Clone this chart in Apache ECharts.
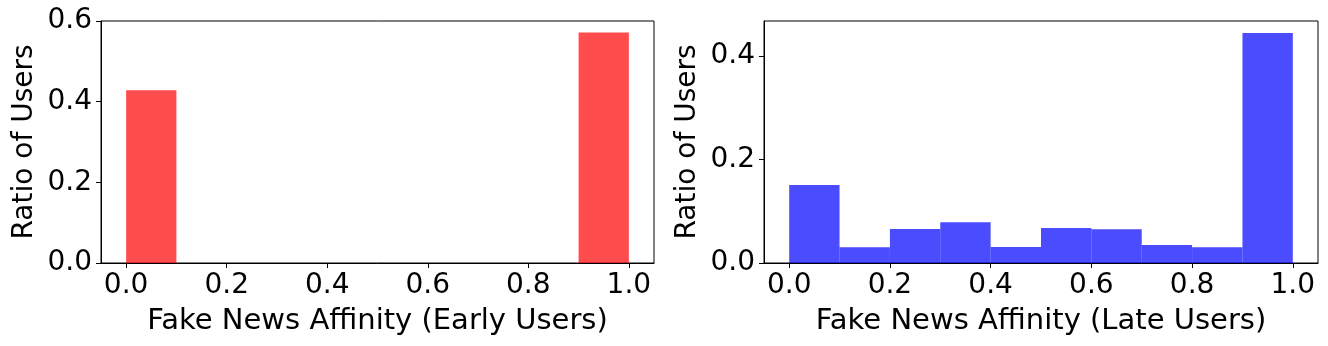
<!DOCTYPE html>
<html>
<head>
<meta charset="utf-8">
<title>Fake News Affinity</title>
<script src="https://cdn.jsdelivr.net/npm/echarts@6/dist/echarts.min.js"></script>
<style>
  html, body { margin: 0; padding: 0; background: #ffffff; }
  #chart { width: 1328px; height: 346px; }
</style>
</head>
<body>
<div id="chart"></div>
<script>
// histogram bins (10 equal bins on [0, 1])
const binEdges = [0, 0.1, 0.2, 0.3, 0.4, 0.5, 0.6, 0.7, 0.8, 0.9, 1.0];

// ratio of users per bin
const earlyRatios = [0.4286, 0, 0, 0, 0, 0, 0, 0, 0, 0.5714];
const lateRatios = [0.1507, 0.0303, 0.0657, 0.0786, 0.0309, 0.0676, 0.0651, 0.0348, 0.0303, 0.4444];

const xTicks = [0, 0.2, 0.4, 0.6, 0.8, 1.0];
const earlyYTicks = [0, 0.2, 0.4, 0.6];
const lateYTicks = [0, 0.2, 0.4];

const xNames = ['Fake News Affinity (Early Users)', 'Fake News Affinity (Late Users)'];
const yName = 'Ratio of Users';

const FONT = 'DejaVu Sans';
const FS = 28;

function binData(values) {
  const out = [];
  values.forEach((v, i) => {
    if (v > 0) out.push([binEdges[i], binEdges[i + 1], v]);
  });
  return out;
}

function renderBin(params, api) {
  const p0 = api.coord([api.value(0), 0]);
  const p1 = api.coord([api.value(1), api.value(2)]);
  return {
    type: 'rect',
    shape: { x: p0[0], y: p1[1], width: p1[0] - p0[0], height: p0[1] - p1[1] },
    style: api.style()
  };
}

function xAxis(idx) {
  return {
    type: 'value',
    gridIndex: idx,
    min: -0.05,
    max: 1.05,
    name: xNames[idx],
    nameLocation: 'middle',
    nameGap: 44,
    nameTextStyle: { fontFamily: FONT, fontSize: 29, color: '#000' },
    splitLine: { show: false },
    axisLine: { show: true, onZero: false, lineStyle: { color: '#000', width: 1 } },
    axisTick: { show: true, inside: false, length: 5, customValues: xTicks, lineStyle: { color: '#000' } },
    axisLabel: {
      customValues: xTicks,
      margin: 9,
      fontFamily: FONT, fontSize: FS, color: '#000',
      formatter: v => v.toFixed(1)
    }
  };
}

function yAxis(idx, max, ticks) {
  return {
    type: 'value',
    gridIndex: idx,
    min: 0,
    max: max,
    name: yName,
    nameLocation: 'middle',
    nameGap: 62,
    nameTextStyle: { fontFamily: FONT, fontSize: FS, color: '#000' },
    splitLine: { show: false },
    axisLine: { show: true, onZero: false, lineStyle: { color: '#000', width: 1 } },
    axisTick: { show: true, inside: false, length: 5, customValues: ticks, lineStyle: { color: '#000' } },
    axisLabel: {
      customValues: ticks,
      margin: 9,
      fontFamily: FONT, fontSize: FS, color: '#000',
      formatter: v => v.toFixed(1)
    }
  };
}

const chart = echarts.init(document.getElementById('chart'), null, { renderer: 'canvas' });

chart.setOption({
  animation: false,
  backgroundColor: '#ffffff',
  grid: [
    { left: 101, top: 21, width: 553, height: 242, show: true, borderColor: '#000', borderWidth: 1, backgroundColor: 'transparent' },
    { left: 764, top: 21, width: 554, height: 242, show: true, borderColor: '#000', borderWidth: 1, backgroundColor: 'transparent' }
  ],
  xAxis: [xAxis(0), xAxis(1)],
  yAxis: [
    yAxis(0, 0.6, earlyYTicks),
    yAxis(1, 0.4676, lateYTicks)
  ],
  series: [
    {
      type: 'custom',
      xAxisIndex: 0,
      yAxisIndex: 0,
      renderItem: renderBin,
      encode: { x: [0, 1], y: 2 },
      itemStyle: { color: 'rgba(255, 0, 0, 0.7)' },
      data: binData(earlyRatios)
    },
    {
      type: 'custom',
      xAxisIndex: 1,
      yAxisIndex: 1,
      renderItem: renderBin,
      encode: { x: [0, 1], y: 2 },
      itemStyle: { color: 'rgba(0, 0, 255, 0.7)' },
      data: binData(lateRatios)
    }
  ]
});
</script>
</body>
</html>
